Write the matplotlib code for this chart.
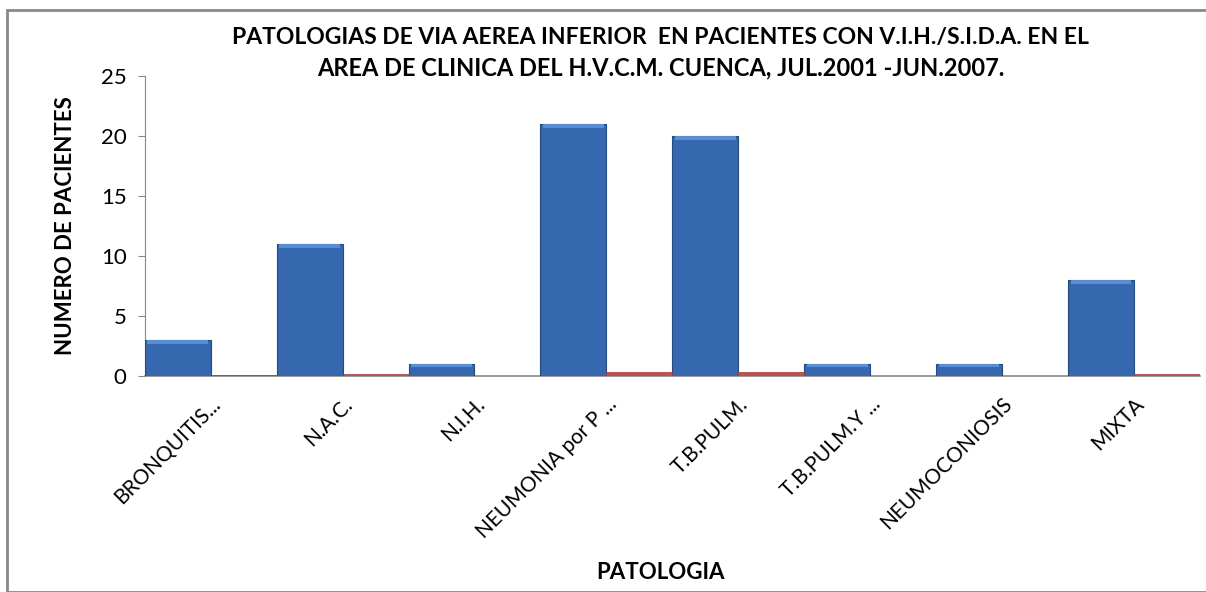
import numpy as np
import matplotlib
matplotlib.use("Agg")
import matplotlib.pyplot as plt
from matplotlib.patches import Rectangle

# datos
patologias = ["BRONQUITIS...", "N.A.C.", "N.I.H.", "NEUMONIA por P ...",
              "T.B.PULM.", "T.B.PULM.Y ...", "NEUMOCONIOSIS", "MIXTA"]
pacientes = [3, 11, 1, 21, 20, 1, 1, 8]
porcentaje = [0.045, 0.167, 0.015, 0.318, 0.303, 0.015, 0.015, 0.121]

plt.rcParams['font.family'] = ['Lato', 'DejaVu Sans']

fig = plt.figure(figsize=(12.06, 5.92), dpi=100)
ax = fig.add_axes([0.120, 0.365, 0.875, 0.507])

x = np.arange(len(patologias))
w = 0.5
ax.bar(x - w / 2, pacientes, width=w, color="#3668B0", edgecolor="#23497f",
       linewidth=0.8, zorder=3)
# brillo superior tipo bisel
for xi, v in zip(x, pacientes):
    top = min(0.35, v * 0.25)
    ax.bar(xi - w / 2, top, bottom=v - top, width=w * 0.92, color="#5a8ed4",
           linewidth=0, zorder=4)
ax.bar(x + w / 2, porcentaje, width=w, color="#C0504D", edgecolor="#a03c3a",
       linewidth=0.5, zorder=3)

ax.set_xlim(-0.5, len(patologias) - 0.5)
ax.set_ylim(0, 25)
ax.set_yticks([0, 5, 10, 15, 20, 25])
ax.tick_params(axis='y', labelsize=16, length=5, color="#888888", pad=8)
ax.set_xticks(x)
ax.set_xticklabels(patologias, rotation=45, ha='right', rotation_mode='anchor',
                   fontsize=15)
ax.tick_params(axis='x', length=0, pad=13)

for s in ['top', 'right']:
    ax.spines[s].set_visible(False)
ax.spines['left'].set_color("#888888")
ax.spines['bottom'].set_color("#888888")
ax.spines['bottom'].set_linewidth(1.2)

ax.set_ylabel("NUMERO DE PACIENTES", fontsize=16, fontweight='bold', labelpad=18)
fig.text(0.548, 0.022, "PATOLOGIA", fontsize=16, fontweight='bold', ha='center')
fig.text(0.548, 0.925, "PATOLOGIAS DE VIA AEREA INFERIOR  EN PACIENTES CON V.I.H./S.I.D.A. EN EL",
         fontsize=16.5, fontweight='bold', ha='center')
fig.text(0.548, 0.873, "AREA DE CLINICA DEL H.V.C.M. CUENCA, JUL.2001 -JUN.2007.",
         fontsize=17, fontweight='bold', ha='center')

fig.patches.append(Rectangle((0.006, 0.0), 1.0, 0.983, transform=fig.transFigure,
                             fill=False, edgecolor="#888888", linewidth=2))

fig.savefig("out.png", dpi=100)
